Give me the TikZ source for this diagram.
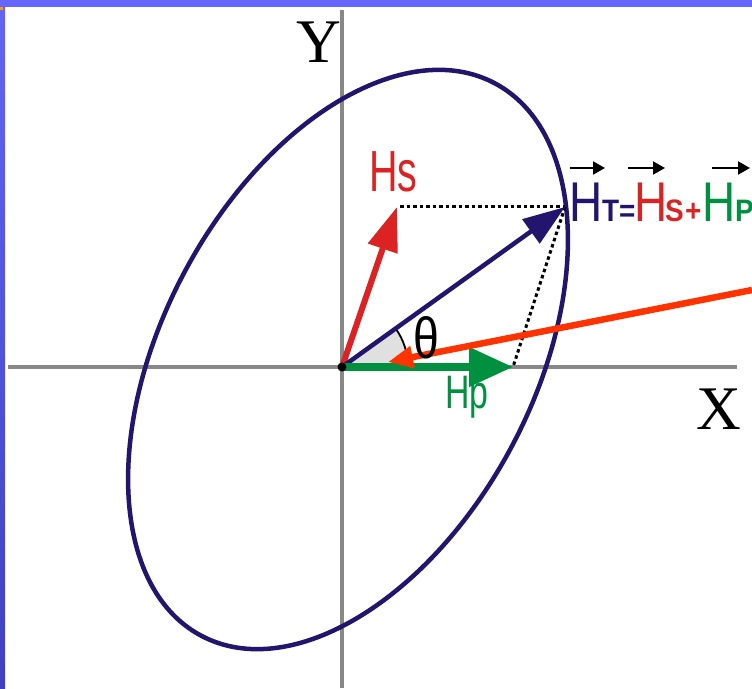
\documentclass[tikz,border=0pt]{standalone}
\usepackage{graphicx}
\usepackage{fontspec}
\setmainfont{Liberation Serif}
\newfontfamily\arial{Liberation Sans}
\usetikzlibrary{arrows.meta}
\definecolor{navy}{RGB}{35,20,110}
\definecolor{hred}{RGB}{220,35,35}
\definecolor{hgreen}{RGB}{0,145,64}
\definecolor{axisgray}{RGB}{136,136,136}
\definecolor{orng}{RGB}{255,51,0}
\definecolor{framebl}{RGB}{102,102,255}
\definecolor{framebltop}{RGB}{100,100,245}
\definecolor{frameblbot}{RGB}{64,64,192}
\definecolor{sectorgray}{RGB}{224,224,224}
\newcommand\bigH{\arial\fontsize{56}{58}\selectfont\scalebox{0.82}[1]{H}}
\newcommand\subf[1]{\arial\bfseries\fontsize{31}{33}\selectfont\scalebox{0.9}[1]{#1}}
\newcommand\slot[2]{\makebox[#1pt][l]{#2}}
\begin{document}
\begin{tikzpicture}[x=1pt,y=1pt,
  lbl/.style={inner sep=0pt,outer sep=0pt,anchor=base west},
  axisline/.style={axisgray,line width=4pt},
  dotline/.style={black,line width=3pt,dash pattern=on 3.5pt off 3pt},
  overarrow/.style={black,line width=2pt,-{Triangle[length=12pt,width=13pt]}}]
\useasboundingbox (0,0) rectangle (752,688);
\clip (0,0) rectangle (752,688);
\fill[white] (0,0) rectangle (752,688);
% frame
\fill[framebl] (0,681) rectangle (752,688);
\shade[top color=framebltop,bottom color=frameblbot] (0,0) rectangle (5,681);
\fill[orange!80!yellow] (0,678) rectangle (3,681);
% coordinates
\coordinate (O) at (342,321);
\coordinate (xl) at (8,321);
\coordinate (xr) at (737,321);
\coordinate (yb) at (342,0);
\coordinate (yt) at (342,678);
\coordinate (S) at (397,481);
\coordinate (T) at (565,481);
\coordinate (P) at (513,321);
\coordinate (oa) at (752,398);
\coordinate (ob) at (388,326);
\coordinate (C) at (348,328.5);
\coordinate (S0) at (400,481);
% axes
\draw[axisline] (xl) -- (xr);
\draw[axisline] (yb) -- (yt);
% ellipse
\draw[navy,line width=4.5pt,rotate around={62:(C)}] (C) ellipse [x radius=312.8, y radius=185.4];
% angle sector
\fill[sectorgray] (O) -- ++(66,0) arc[start angle=0,end angle=35.7,radius=66] -- cycle;
\draw[black,line width=1.8pt] (O) ++(66,0) arc[start angle=0,end angle=35.7,radius=66];
% dotted construction lines
\draw[dotline] (S0) -- (T);
\draw[dotline] (T) -- (P);
% vectors
\draw[hred,line width=6pt,-{Triangle[length=44pt,width=30pt]}] (O) -- (S);
\draw[navy,line width=4.5pt,-{Triangle[length=42pt,width=29pt]}] (O) -- (T);
\draw[hgreen,line width=7.5pt,-{Triangle[length=44pt,width=38pt]}] (O) -- (P);
\draw[orng,line width=6.5pt,-{Triangle[length=25pt,width=21pt]}] (oa) -- (ob);
\fill[black] (O) circle (4.5);
% labels
\node[lbl,text=hred] (hs) at (369,496) {\arial\fontsize{58}{60}\selectfont\scalebox{0.68}[1]{Hs}};
\node[lbl,text=hgreen] (hp) at (445,279) {\arial\fontsize{47}{50}\selectfont\scalebox{0.72}[1]{Hp}};
\node[lbl,text=black] (th) at (413,329) {\arial\fontsize{58}{60}\selectfont\scalebox{0.8}[1]{θ}};
\node[lbl] (ylab) at (296,625) {\fontsize{62}{64}\selectfont Y};
\node[lbl] (xlab) at (696,258) {\fontsize{62}{64}\selectfont X};
% H_T = H_S + H_P
\node[lbl] (hsum) at (569,466) {%
  \slot{33}{\color{navy}\bigH}%
  \slot{17}{\color{navy}\subf{T}}%
  \slot{15}{\color{navy}\subf{=}}%
  \slot{31}{\color{hred}\bigH}%
  \slot{20}{\color{hred}\subf{S}}%
  \slot{17}{\color{hred}\subf{+}}%
  \slot{33}{\color{hgreen}\bigH}%
  {\color{hgreen}\subf{P}}};
\draw[overarrow] (570,520) -- (605,520);
\draw[overarrow] (628,520) -- (665,520);
\draw[overarrow] (712,520) -- (750,520);
\end{tikzpicture}
\end{document}
